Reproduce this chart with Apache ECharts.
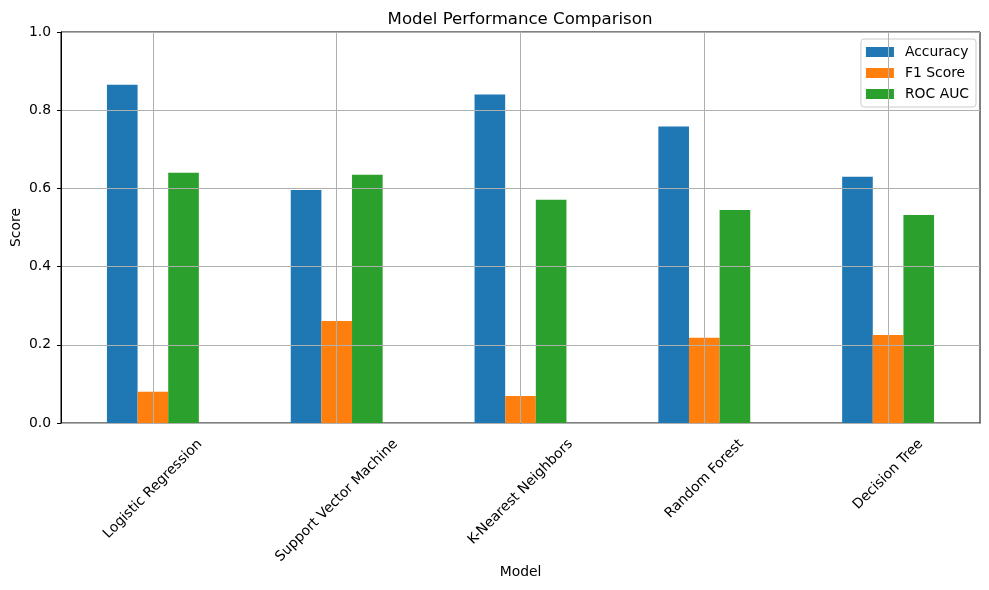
<!DOCTYPE html>
<html>
<head>
<meta charset="utf-8">
<script src="https://cdn.jsdelivr.net/npm/echarts@6/dist/echarts.min.js"></script>
<style>html,body{margin:0;padding:0;background:#fff;}#c{width:989px;height:590px;}</style>
</head>
<body>
<div id="c"></div>
<script>
const models = ['Logistic Regression', 'Support Vector Machine', 'K-Nearest Neighbors', 'Random Forest', 'Decision Tree'];
const accuracy = [0.865, 0.596, 0.840, 0.758, 0.630];
const f1Score = [0.080, 0.261, 0.069, 0.218, 0.225];
const rocAuc = [0.640, 0.635, 0.571, 0.545, 0.532];
const yTicks = [0.0, 0.2, 0.4, 0.6, 0.8, 1.0];

const FONT = 'DejaVu Sans';
const FS = 13.9;

// Center each rotated tick label under its tick (matplotlib-style ha="center")
const cv = document.createElement('canvas').getContext('2d');
cv.font = FS + 'px "' + FONT + '"';
const rich = {};
models.forEach((m, i) => {
  const w = cv.measureText(m).width;
  const H = 0.7071 * (w + FS);
  const e = H / 2;
  const p = 1.4142 * e;
  rich['l' + i] = {fontFamily: FONT, fontSize: FS, color: '#000', padding: [p, p, 0, 0]};
});

const chart = echarts.init(document.getElementById('c'));
const gridLine = {color: '#b0b0b0', width: 1};
chart.setOption({
  animation: false,
  textStyle: {fontFamily: FONT},
  title: {
    text: 'Model Performance Comparison',
    left: 515, top: 6, textAlign: 'center',
    textStyle: {fontFamily: FONT, fontSize: 16.6, fontWeight: 'normal', color: '#000'}
  },
  legend: {
    orient: 'vertical', right: 13, top: 39,
    itemWidth: 28, itemHeight: 10, itemGap: 7, padding: [6, 7, 6, 5],
    icon: 'rect',
    borderColor: '#cccccc', borderWidth: 1, borderRadius: 3,
    backgroundColor: 'rgba(255,255,255,0.8)',
    textStyle: {fontFamily: FONT, fontSize: FS, color: '#000', padding: [0, 0, 0, 6]},
    data: ['Accuracy', 'F1 Score', 'ROC AUC']
  },
  grid: {left: 61, right: 9, top: 32, bottom: 167, containLabel: false, outerBoundsMode: 'none',
    show: true, borderColor: '#000', borderWidth: 1, backgroundColor: 'transparent'},
  xAxis: {
    type: 'category', data: models,
    name: 'Model', nameLocation: 'middle', nameGap: 142, nameMoveOverlap: false,
    nameTextStyle: {fontFamily: FONT, fontSize: FS, color: '#000'},
    axisLine: {lineStyle: {color: '#000'}},
    axisTick: {alignWithLabel: true, length: 4, lineStyle: {color: '#000'}},
    axisLabel: {rotate: 45, interval: 0, hideOverlap: false, align: 'center', verticalAlign: 'middle',
      fontFamily: FONT, fontSize: FS, color: '#000', margin: 14,
      formatter: (v, i) => '{l' + i + '|' + v + '}', rich: rich},
    splitLine: {show: false}
  },
  yAxis: {
    type: 'value', min: 0, max: 1, interval: 0.2, z: 3,
    name: 'Score', nameLocation: 'middle', nameGap: 38, nameMoveOverlap: false,
    nameTextStyle: {fontFamily: FONT, fontSize: FS, color: '#000'},
    axisLine: {show: true, lineStyle: {color: '#000'}},
    axisTick: {show: true, length: 4, lineStyle: {color: '#000'}},
    axisLabel: {fontFamily: FONT, fontSize: FS, color: '#000', margin: 10,
      formatter: v => (yTicks.find(t => Math.abs(t - v) < 1e-9) ?? v).toFixed(1)},
    splitLine: {show: true, lineStyle: gridLine}
  },
  series: [
    {name: 'Accuracy', type: 'bar', data: accuracy, itemStyle: {color: '#1f77b4'}, barGap: '0%', barCategoryGap: '50%'},
    {name: 'F1 Score', type: 'bar', data: f1Score, itemStyle: {color: '#ff7f0e'}, barGap: '0%', barCategoryGap: '50%'},
    {name: 'ROC AUC', type: 'bar', data: rocAuc, itemStyle: {color: '#2ca02c'}, barGap: '0%', barCategoryGap: '50%'},
    {name: 'xgrid', type: 'line', data: [], silent: true, z: 5,
      markLine: {silent: true, symbol: 'none', label: {show: false}, animation: false,
        lineStyle: {color: '#b0b0b0', width: 1, type: 'solid'},
        data: models.map(m => ({xAxis: m}))}}
  ]
});
</script>
</body>
</html>
